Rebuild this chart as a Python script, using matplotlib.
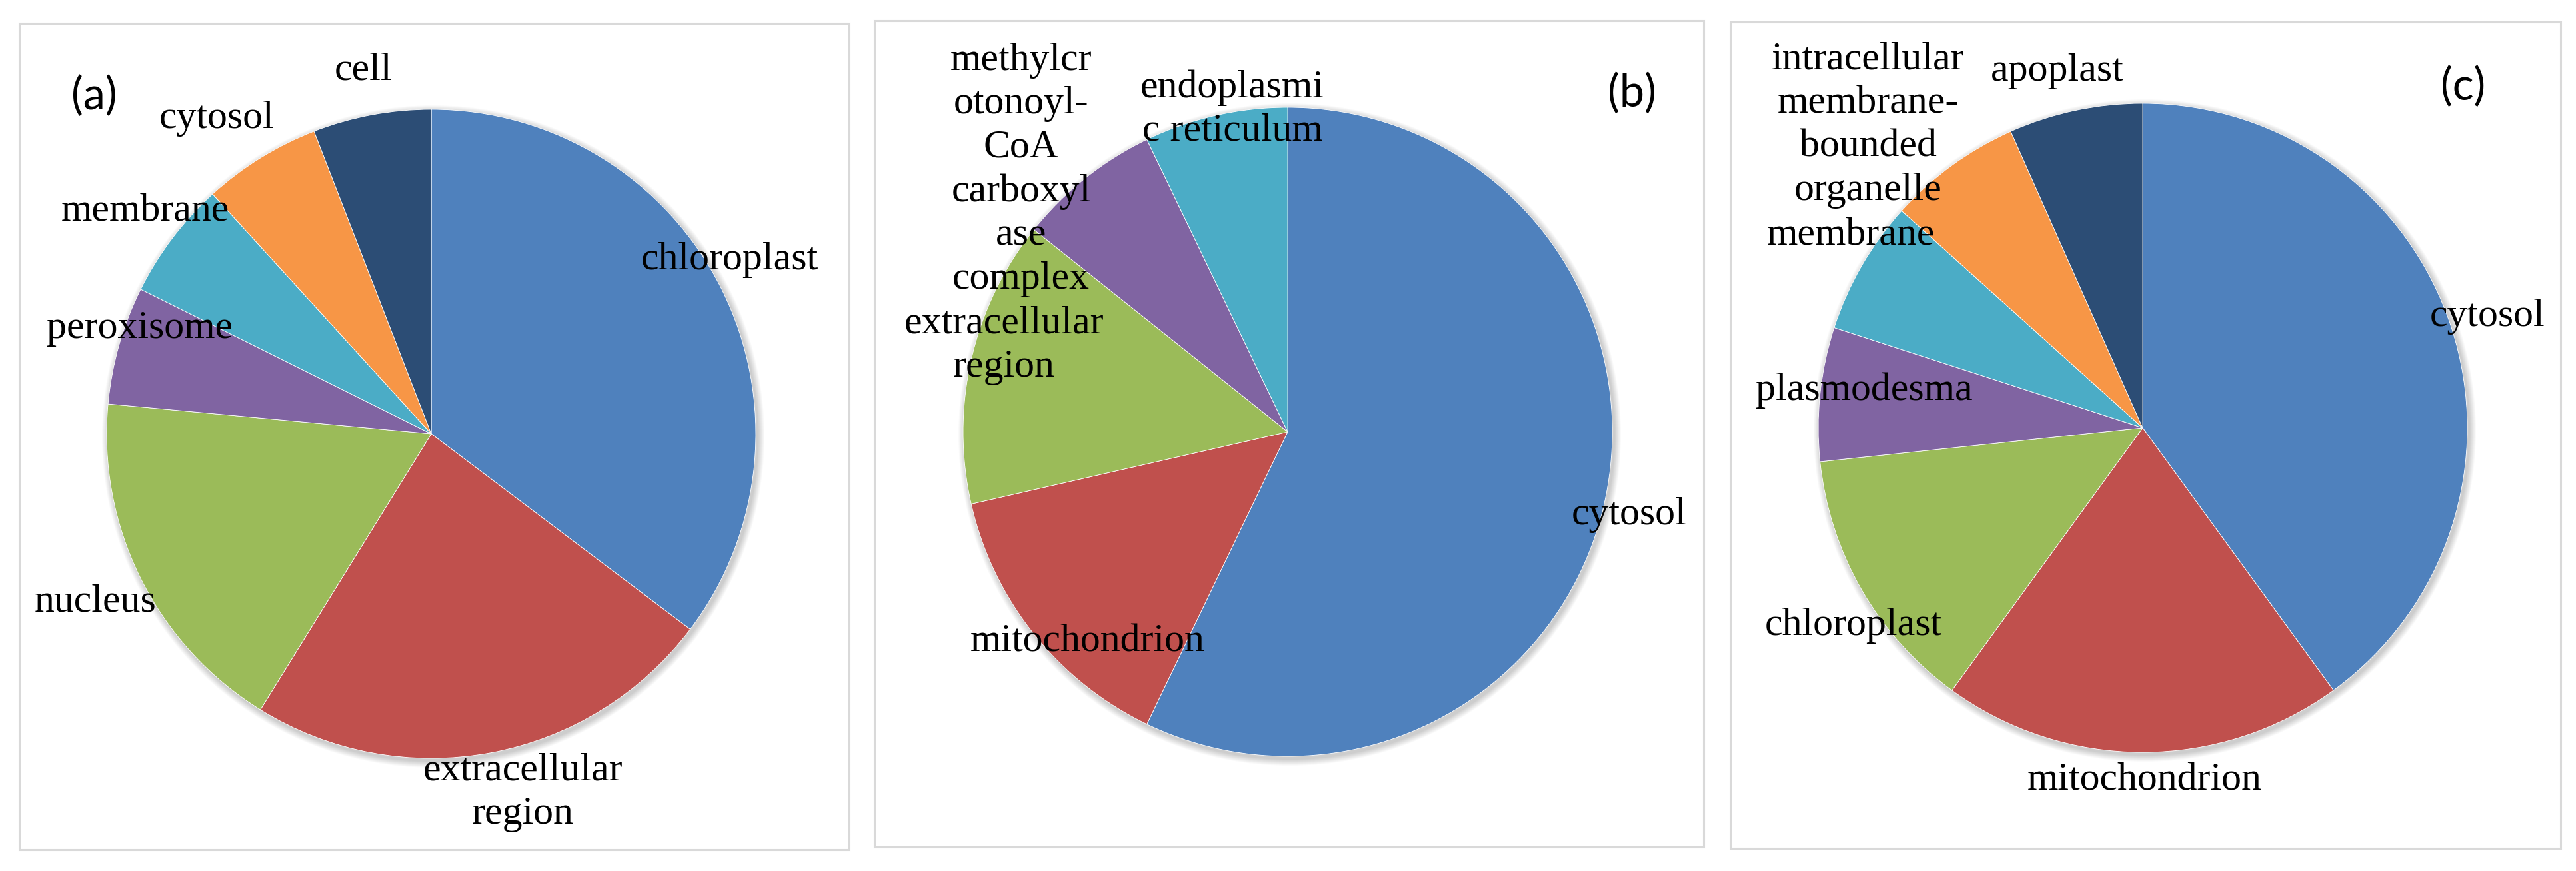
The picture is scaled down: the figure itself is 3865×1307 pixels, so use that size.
import matplotlib
matplotlib.use("Agg")
import matplotlib.pyplot as plt
from matplotlib.patches import Rectangle, Circle

# data (counts per GO cellular component)
a_labels = ["chloroplast", "extracellular\nregion", "nucleus", "peroxisome", "membrane", "cytosol", "cell"]
a_counts = [6, 4, 3, 1, 1, 1, 1]

b_labels = ["cytosol", "mitochondrion", "extracellular\nregion",
            "methylcr\notonoyl-\nCoA\ncarboxyl\nase\ncomplex", "endoplasmi\nc reticulum"]
b_counts = [8, 2, 2, 1, 1]

c_labels = ["cytosol", "mitochondrion", "chloroplast", "plasmodesma", "membrane",
            "intracellular\nmembrane-\nbounded\norganelle", "apoplast"]
c_counts = [6, 3, 2, 1, 1, 1, 1]

panel_tags = ["(a)", "(b)", "(c)"]

colors = ["#4F81BD", "#C0504D", "#9BBB59", "#8064A2", "#4BACC6", "#F79646", "#2C4D75"]

W, H = 3865, 1307
fig = plt.figure(figsize=(W / 100, H / 100), dpi=100)
ax = fig.add_axes([0, 0, 1, 1])

# layout in image pixels (y measured from top)
boxes = [(29, 35, 1245, 1240), (1312, 31, 1244, 1240), (2596, 33, 1246, 1240)]
centers = [(647, 651), (1932, 648), (3215, 642)]
radius = 487
tag_pos = [(141, 145), (2448, 141), (3696, 131)]
label_pos = [
    [(1095, 390), (784, 1189), (143, 904), (210, 493), (218, 318), (325, 178), (545, 106)],
    [(2444, 773), (1632, 964), (1506, 518), (1532, 255), (1849, 164)],
    [(3732, 475), (3218, 1172), (2781, 939), (2797, 586), (2777, 354), (2803, 188), (3087, 107)],
]

serif = ["Liberation Serif", "DejaVu Serif"]

for i, (labels, counts) in enumerate([(a_labels, a_counts), (b_labels, b_counts), (c_labels, c_counts)]):
    bx, by, bw, bh = boxes[i]
    ax.add_patch(Rectangle((bx, H - by - bh), bw, bh, fill=False, edgecolor="#D9D9D9", lw=2.2, zorder=0))
    cx, cy = centers[i]
    # soft shadow under the pie
    for k in range(10):
        ax.add_patch(Circle((cx + 3, H - cy - 4), radius + 10 - k, color="black", alpha=0.018, lw=0, zorder=1))
    wedges, _ = ax.pie(counts, colors=colors[:len(counts)], startangle=90, counterclock=False,
                       center=(cx, H - cy), radius=radius,
                       wedgeprops=dict(edgecolor="white", linewidth=0.6))
    for w in wedges:
        w.set_zorder(2)
    for lab, (lx, ly) in zip(labels, label_pos[i]):
        ax.text(lx, H - ly, lab, ha="center", va="center", fontsize=43, family=serif,
                color="black", linespacing=1.28, zorder=5)
    tx, ty = tag_pos[i]
    ax.text(tx, H - ty, panel_tags[i], ha="center", va="center", fontsize=48,
            family=["Lato", "DejaVu Sans"], color="black", zorder=5)

ax.set_xlim(0, W)
ax.set_ylim(0, H)
ax.set_aspect("auto")
ax.axis("off")

plt.savefig("out.png", dpi=100, facecolor="white")
